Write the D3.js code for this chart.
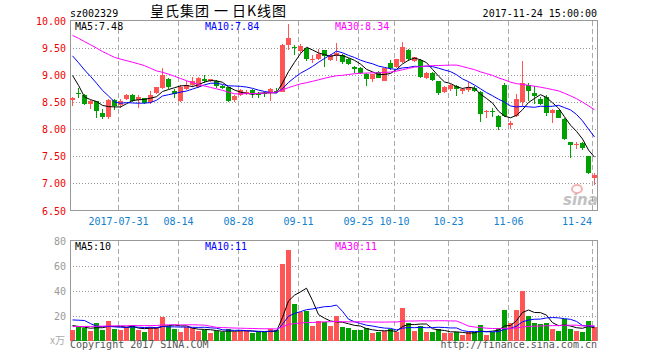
<!DOCTYPE html>
<html><head><meta charset="utf-8">
<script src="https://cdn.jsdelivr.net/npm/d3@7/dist/d3.min.js"></script>
<style>body{margin:0;background:#fff}svg{display:block}</style>
</head><body><svg id="c" width="660" height="360"></svg>
<script>
const dates = ["2017-07-19","2017-07-20","2017-07-21","2017-07-24","2017-07-25","2017-07-26","2017-07-27","2017-07-28",
"2017-07-31","2017-08-01","2017-08-02","2017-08-03","2017-08-04","2017-08-07","2017-08-08","2017-08-09","2017-08-10","2017-08-11",
"2017-08-14","2017-08-15","2017-08-16","2017-08-17","2017-08-18","2017-08-21","2017-08-22","2017-08-23","2017-08-24","2017-08-25",
"2017-08-28","2017-08-29","2017-08-30","2017-08-31","2017-09-01","2017-09-04","2017-09-05","2017-09-06","2017-09-07","2017-09-08",
"2017-09-11","2017-09-12","2017-09-13","2017-09-14","2017-09-15","2017-09-18","2017-09-19","2017-09-20","2017-09-21","2017-09-22",
"2017-09-25","2017-09-26","2017-09-27","2017-09-28","2017-09-29",
"2017-10-09","2017-10-10","2017-10-11","2017-10-12","2017-10-13","2017-10-16","2017-10-17","2017-10-18","2017-10-19","2017-10-20",
"2017-10-23","2017-10-24","2017-10-25","2017-10-26","2017-10-27","2017-10-30","2017-10-31","2017-11-01","2017-11-02","2017-11-03",
"2017-11-06","2017-11-07","2017-11-08","2017-11-09","2017-11-10","2017-11-13","2017-11-14","2017-11-15","2017-11-16","2017-11-17",
"2017-11-20","2017-11-21","2017-11-22","2017-11-23","2017-11-24"];

const openP = [8.54,8.66,8.62,8.47,8.51,8.29,8.23,8.53,8.44,8.55,8.63,8.53,8.57,8.50,8.66,8.75,8.92,8.70,8.52,8.74,
8.81,8.78,8.92,8.88,8.88,8.80,8.77,8.54,8.63,8.66,8.72,8.66,8.66,8.66,8.71,8.69,9.55,9.52,9.44,9.49,
9.28,9.29,9.45,9.27,9.35,9.36,9.30,9.14,9.13,9.02,8.92,9.06,8.89,9.21,9.14,9.23,9.45,9.26,9.28,8.95,
9.04,8.88,8.68,8.74,8.79,8.70,8.72,8.76,8.68,8.31,8.34,8.25,8.81,8.07,8.24,8.50,8.81,8.66,8.56,8.60,
8.29,8.35,8.18,7.76,7.70,7.75,7.50,7.09];
const highP = [8.60,8.76,8.64,8.53,8.52,8.37,8.56,8.56,8.55,8.64,8.65,8.62,8.58,8.70,8.78,9.12,8.94,8.74,8.82,8.88,
8.96,8.96,9.00,8.93,8.90,8.82,8.78,8.62,8.74,8.72,8.74,8.68,8.68,8.75,8.75,9.56,9.93,9.54,9.56,9.50,
9.36,9.48,9.46,9.38,9.58,9.38,9.31,9.17,9.14,9.03,9.02,9.07,9.13,9.27,9.30,9.61,9.47,9.33,9.29,9.05,
9.05,8.89,8.80,8.83,8.81,8.76,8.87,8.80,8.70,8.36,8.38,8.26,8.85,8.14,8.64,9.25,8.84,8.80,8.60,8.62,
8.37,8.36,8.20,7.77,7.76,7.77,7.51,7.20];
const lowP = [8.43,8.58,8.44,8.37,8.21,8.19,8.19,8.36,8.38,8.53,8.50,8.38,8.47,8.47,8.65,8.73,8.74,8.58,8.49,8.72,
8.78,8.76,8.85,8.86,8.76,8.74,8.50,8.50,8.61,8.62,8.58,8.57,8.60,8.51,8.67,8.68,9.45,9.36,9.41,9.26,
9.22,9.27,9.15,9.25,9.25,9.20,9.18,9.04,9.02,8.80,8.86,8.94,8.88,9.08,9.13,9.21,9.25,9.24,8.94,8.93,
8.88,8.63,8.66,8.70,8.61,8.64,8.68,8.68,8.13,8.21,8.23,7.99,8.22,8.01,8.23,8.43,8.52,8.47,8.45,8.24,
8.12,8.20,7.80,7.46,7.63,7.62,7.18,6.97];
const closeP = [8.58,8.64,8.46,8.52,8.34,8.22,8.53,8.43,8.52,8.63,8.52,8.59,8.48,8.62,8.77,9.00,8.77,8.65,8.78,8.82,
8.89,8.95,8.89,8.92,8.79,8.76,8.52,8.61,8.72,8.69,8.65,8.63,8.64,8.73,8.70,9.55,9.67,9.50,9.53,9.29,
9.30,9.39,9.35,9.37,9.41,9.24,9.20,9.11,9.03,8.92,9.01,8.95,9.12,9.12,9.29,9.52,9.29,9.32,8.96,9.03,
8.90,8.67,8.78,8.82,8.73,8.74,8.78,8.70,8.27,8.33,8.32,8.03,8.24,8.12,8.55,8.84,8.70,8.61,8.47,8.29,
8.35,8.21,7.81,7.70,7.72,7.65,7.19,7.15];
const volume = [8.7,10.6,9.8,7.9,14.1,8.7,16.0,9.3,8.7,10.6,12.5,8.5,7.1,10.6,10.6,19.2,12.0,9.3,7.1,11.1,
9.8,7.9,8.5,5.8,7.9,6.6,9.3,7.1,7.9,7.9,6.0,6.6,6.6,9.3,8.7,61.2,72.5,29.5,22.7,23.3,
12.0,16.0,15.2,11.4,20.0,10.6,9.8,8.7,8.7,9.8,5.8,6.6,7.9,9.3,6.6,25.9,14.1,7.9,11.4,6.6,
7.1,9.3,5.8,5.8,6.6,4.7,6.6,7.0,12.5,4.7,6.6,10.3,24.1,14.1,24.1,39.7,20.0,14.1,13.6,14.1,
9.5,7.9,17.3,9.0,7.5,7.0,16.0,11.0];

// estimated closes / volumes of the 29 sessions before the first one shown (feed the moving averages)
const histClose = [10.2,10.3,10.25,10.15,10.2,10.1,10.05,9.5,9.45,9.4,9.5,9.45,10.1,10.2,9.8,9.75,9.85,10.0,10.05,9.95,9.9,9.8,9.7,9.6,9.55,9.55,9.53,8.77,8.51];
const histVolume = [8,9,7,8,10,9,8,7,9,8,10,8,9,8,7,9,8,10,9,8,13,12,33,34,13,14,13,12,12];

const tickDates = ["2017-07-31","2017-08-14","2017-08-28","2017-09-11","2017-09-25","2017-10-10","2017-10-23","2017-11-06","2017-11-24"];
const tickLabels = ["2017-07-31","08-14","08-28","09-11","09-25","10-10","10-23","11-06","11-24"];
const priceTicks = [6.5,7,7.5,8,8.5,9,9.5,10];
const volTicks = [20,40,60,80];
const maPeriods = [5,10,30];
const maNames = ["MA5","MA10","MA30"];
const priceMaLabels = ["7.48","7.84","8.34"];
const volMaLabels = ["10","11","11"];
const titleParts = ["皇氏集团", "一", "日K线图"];

const maColors = ["#000000","#0000ff","#ff00ff"];
const upColor = "#ff5555", downColor = "#00a000";
const mono = "'DejaVu Sans Mono', monospace";
const cjk = "'Noto Sans CJK SC', sans-serif";

const svg = d3.select("#c");
const L = 70, R = 597;
const x = d3.scaleBand().domain(dates).range([L, R]).paddingInner(1/6).paddingOuter(0);
const y = d3.scaleLinear().domain([6.5, 10]).range([210.5, 20.5]);
const yv = d3.scaleLinear().domain([0, 80]).range([340.5, 240.5]);
const bw = x.bandwidth();

function movingAvg(series, hist, n) {
  const all = hist.concat(series);
  return series.map((_, i) => {
    const j = i + hist.length;
    return d3.mean(all.slice(j - n + 1, j + 1));
  });
}

// ---------- header ----------
svg.append("text").attr("x", 70).attr("y", 16.5).attr("font-family", mono).attr("font-size", 10).attr("fill", "#000").text("sz002329");
const titleX = [150, 214, 232];
titleParts.forEach((t, i) => {
  svg.append("text").attr("x", titleX[i]).attr("y", 15.5).attr("font-family", cjk).attr("font-size", 14)
    .attr("letter-spacing", 1).attr("fill", "#000").text(t);
});
svg.append("text").attr("x", 597).attr("y", 16.5).attr("text-anchor", "end").attr("font-family", mono).attr("font-size", 10).attr("fill", "#000").text("2017-11-24 15:00:00");

// ---------- grids ----------
function panel(yScale, ticks, top, bottom) {
  const g = svg.append("g").attr("shape-rendering", "crispEdges");
  g.selectAll("line.h").data(ticks.filter(t => yScale(t) > top + 1 && yScale(t) < bottom - 1)).join("line")
    .attr("x1", L).attr("x2", R).attr("y1", d => Math.round(yScale(d)) + 0.5).attr("y2", d => Math.round(yScale(d)) + 0.5)
    .attr("stroke", "#999").attr("stroke-dasharray", "1,2");
  g.selectAll("line.v").data(tickDates).join("line")
    .attr("x1", d => x(d) + 0.5).attr("x2", d => x(d) + 0.5).attr("y1", top).attr("y2", bottom)
    .attr("stroke", "#aaa").attr("stroke-dasharray", "5,3");
  g.append("rect").attr("x", L + 0.5).attr("y", top).attr("width", R - L).attr("height", bottom - top)
    .attr("fill", "none").attr("stroke", "#999");
}
panel(y, priceTicks, 20.5, 210.5);
panel(yv, [0].concat(volTicks), 240.5, 340.5);

// watermark
const wm = svg.append("g").attr("opacity", 0.6);
wm.append("ellipse").attr("cx", 577).attr("cy", 189).attr("rx", 5).attr("ry", 4).attr("fill", "none").attr("stroke", "#f08080").attr("stroke-width", 2);
wm.append("text").attr("x", 563).attr("y", 205).attr("font-family", "'DejaVu Sans', sans-serif").attr("font-weight", "bold").attr("font-style", "italic")
  .attr("font-size", 15).attr("fill", "#999").text("sina");

// ---------- y labels ----------
svg.selectAll("text.py").data(priceTicks).join("text")
  .attr("x", 66).attr("y", d => y(d) + 4).attr("text-anchor", "end")
  .attr("font-family", mono).attr("font-size", 10).attr("fill", "#ee0000").text(d3.format(".2f"));
svg.selectAll("text.vy").data(volTicks).join("text")
  .attr("x", 66).attr("y", d => yv(d) + 4).attr("text-anchor", "end")
  .attr("font-family", mono).attr("font-size", 10).attr("fill", "#999").text(d => d);
svg.append("text").attr("x", 50).attr("y", 344).attr("font-family", cjk).attr("font-size", 10).attr("fill", "#aaa").text("x万");

// ---------- x labels ----------
svg.selectAll("text.xl").data(tickDates).join("text")
  .attr("x", (d, i) => i === tickDates.length - 1 ? x(d) : x(d) + 0.5)
  .attr("y", 225)
  .attr("text-anchor", (d, i) => i === tickDates.length - 1 ? "end" : "middle")
  .attr("font-family", mono).attr("font-size", 10).attr("fill", "#1080d0")
  .text((d, i) => tickLabels[i]);

// ---------- candles ----------
const data = dates.map((d, i) => ({d, o: openP[i], h: highP[i], l: lowP[i], c: closeP[i], v: volume[i]}));
const col = k => k.c >= k.o ? upColor : downColor;
const cg = svg.append("g").attr("shape-rendering", "crispEdges");
cg.selectAll("line").data(data).join("line")
  .attr("x1", k => x(k.d) + 2.5).attr("x2", k => x(k.d) + 2.5)
  .attr("y1", k => y(k.h)).attr("y2", k => y(k.l)).attr("stroke", col);
cg.selectAll("rect").data(data).join("rect")
  .attr("x", k => x(k.d)).attr("width", bw)
  .attr("y", k => y(Math.max(k.o, k.c)))
  .attr("height", k => Math.max(1, Math.abs(y(k.o) - y(k.c))))
  .attr("fill", col);

// volume bars
svg.append("g").attr("shape-rendering", "crispEdges").selectAll("rect").data(data).join("rect")
  .attr("x", k => x(k.d)).attr("width", bw)
  .attr("y", k => yv(k.v)).attr("height", k => yv(0) - yv(k.v)).attr("fill", col);

// ---------- moving averages ----------
maPeriods.forEach((n, j) => {
  const pm = movingAvg(closeP, histClose, n);
  const vm = movingAvg(volume, histVolume, n);
  const lp = d3.line().x((v, i) => x(dates[i]) + 2.5).y(v => y(v));
  const lv = d3.line().x((v, i) => x(dates[i]) + 2.5).y(v => yv(v));
  svg.append("path").attr("d", lp(pm)).attr("fill", "none").attr("stroke", maColors[j]).attr("stroke-width", 1);
  svg.append("path").attr("d", lv(vm)).attr("fill", "none").attr("stroke", maColors[j]).attr("stroke-width", 1);
});

// legends
const legX = [75, 205, 335];
maNames.forEach((nm, j) => {
  svg.append("text").attr("x", legX[j]).attr("y", 29.5).attr("font-family", mono).attr("font-size", 10)
    .attr("fill", maColors[j]).text(nm + ":" + priceMaLabels[j]);
  svg.append("text").attr("x", legX[j]).attr("y", 250).attr("font-family", mono).attr("font-size", 10)
    .attr("fill", maColors[j]).text(nm + ":" + volMaLabels[j]);
});

// footer
svg.append("text").attr("x", 70).attr("y", 348).attr("font-family", mono).attr("font-size", 10).attr("fill", "#555").text("Copyright 2017 SINA.COM");
svg.append("text").attr("x", 597).attr("y", 348).attr("text-anchor", "end").attr("font-family", mono).attr("font-size", 10).attr("fill", "#555").text("http://finance.sina.com.cn");
</script></body></html>
